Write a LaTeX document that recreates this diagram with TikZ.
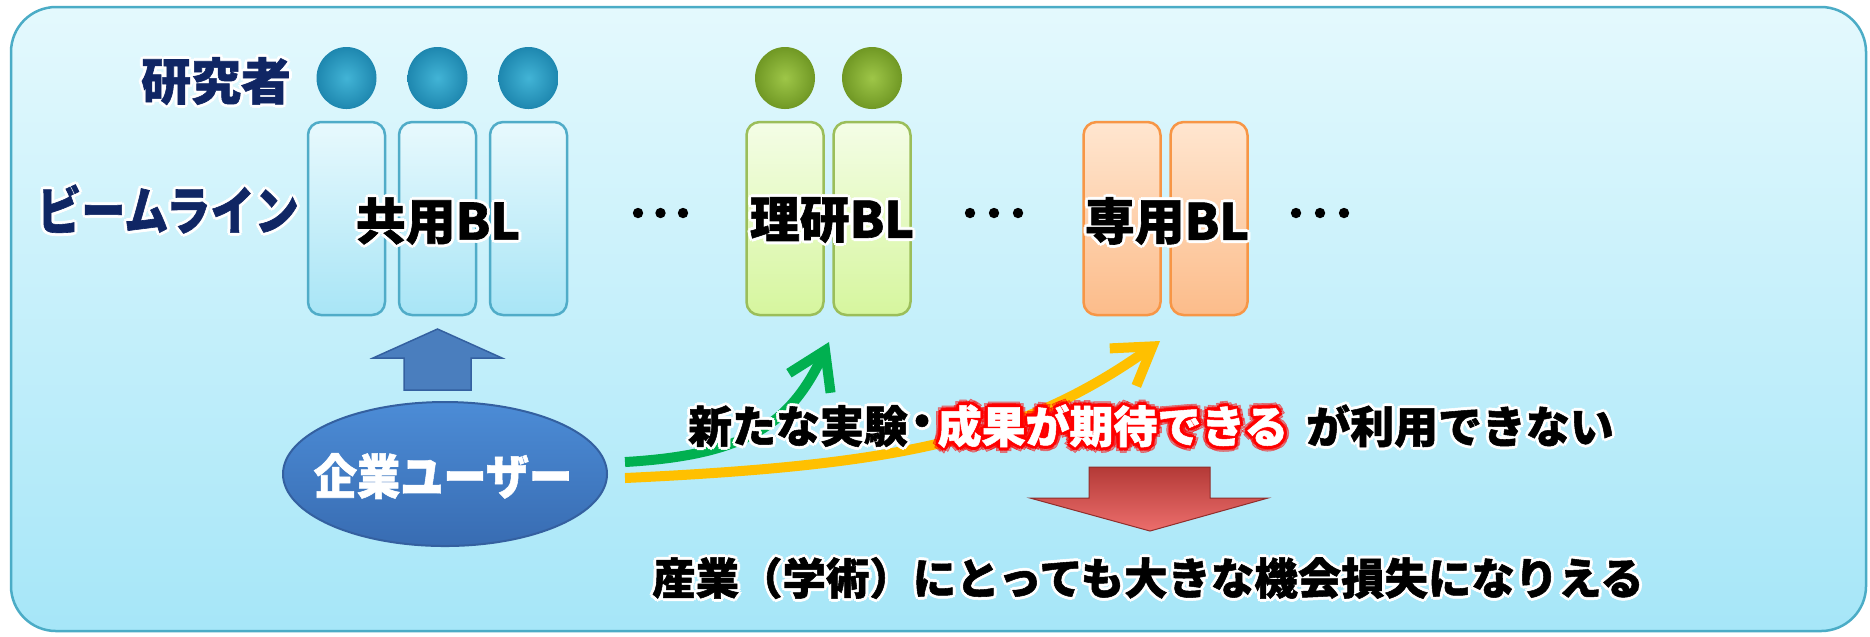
\documentclass[tikz,border=0pt]{standalone}
\usepackage{fontspec}
\newfontfamily\jp{Noto Sans CJK JP}[BoldFeatures={FakeBold=1.2}]
\usetikzlibrary{shapes.geometric,arrows.meta}
\definecolor{navy}{RGB}{16,38,100}
\definecolor{bgtop}{RGB}{228,249,253}
\definecolor{bgbot}{RGB}{166,230,248}
\definecolor{bgline}{RGB}{75,172,198}
\definecolor{bbtop}{RGB}{232,249,253}
\definecolor{bbbot}{RGB}{168,229,246}
\definecolor{bbline}{RGB}{80,172,200}
\definecolor{gbtop}{RGB}{244,253,230}
\definecolor{gbbot}{RGB}{214,246,158}
\definecolor{gbline}{RGB}{155,190,90}
\definecolor{obtop}{RGB}{255,230,208}
\definecolor{obbot}{RGB}{252,188,138}
\definecolor{obline}{RGB}{247,150,70}
\definecolor{bcin}{RGB}{66,180,214}
\definecolor{bcout}{RGB}{30,135,175}
\definecolor{gcin}{RGB}{158,198,72}
\definecolor{gcout}{RGB}{112,152,36}
\definecolor{ustop}{RGB}{76,140,214}
\definecolor{usbot}{RGB}{56,108,178}
\definecolor{usline}{RGB}{52,96,160}
\definecolor{offgreen}{RGB}{0,176,80}
\definecolor{offgold}{RGB}{255,192,0}
\definecolor{barrow}{RGB}{74,126,190}
\definecolor{rtop}{RGB}{180,58,55}
\definecolor{rbot}{RGB}{236,110,108}
\tikzset{
  lbl/.style={inner sep=0pt, font=\jp\bfseries\fontsize{#1}{#1}\selectfont},
  bluebox/.style={draw=bbline, line width=0.25mm, rounded corners=1.3mm, top color=bbtop, bottom color=bbbot, minimum width=7.7mm, minimum height=19.3mm, inner sep=0pt},
  greenbox/.style={bluebox, draw=gbline, top color=gbtop, bottom color=gbbot},
  orangebox/.style={bluebox, draw=obline, top color=obtop, bottom color=obbot},
  bluecirc/.style={ellipse, minimum width=6mm, minimum height=6.2mm, inner sep=0pt, inner color=bcin, outer color=bcout},
  greencirc/.style={bluecirc, inner color=gcin, outer color=gcout},
  curvearrow/.style={line width=1mm, -{Straight Barb[length=3.6mm,width=4.6mm]}},
  dotmark/.style={fill=black},
}
% glow: copies of the text around the real one
\newcommand\glowtxt[6]{%
  \foreach \gA in {0,45,...,315}{%
    \node[#3, text=#4, shift={(\gA:#5)}] at #2 {#6};}
  \node[#3] (#1) at #2 {#6};}
\newcommand\redglowtxt[5]{%
  \foreach \gA in {0,45,...,315}{%
    \node[#3, text=#4, text opacity=0.45, shift={(\gA:5.5)}] at #2 {#5};
    \node[#3, text=#4, shift={(\gA+22.5:3)}] at #2 {#5};}
  \node[#3] (#1) at #2 {#5};}
\begin{document}
\begin{tikzpicture}[x=0.1mm,y=-0.1mm]
\useasboundingbox (0,0) rectangle (1870,636);
\fill[white] (0,0) rectangle (1870,636);
\path[draw=bgline, line width=0.25mm, rounded corners=4.5mm, top color=bgtop, bottom color=bgbot] (11,7) rectangle (1866,631);

% researchers
\foreach \x/\n in {346.5/1,437.5/2,528.5/3} \node[bluecirc] (rb\n) at (\x,78) {};
\foreach \x/\n in {785/1,872/2} \node[greencirc] (rg\n) at (\x,78) {};

% beamlines
\foreach \x/\n in {346.5/1,437.5/2,528.5/3} \node[bluebox] (kb\n) at (\x,218.5) {};
\foreach \x/\n in {785/1,872/2} \node[greenbox] (rk\n) at (\x,218.5) {};
\foreach \x/\n in {1122/1,1209/2} \node[orangebox] (sb\n) at (\x,218.5) {};

% dots
\foreach \x in {638,660.5,683,970,994,1018,1296,1320,1344} \fill[dotmark] (\x,213) circle (0.52mm);

% left labels
\glowtxt{lres}{(216,81)}{lbl=14.2pt, text=navy}{white}{3}{研究者}
\glowtxt{lbl1}{(168,209)}{lbl=14.8pt, text=navy}{white}{3}{\scalebox{0.85}[1]{ビームライン}}

% BL labels
\glowtxt{tk}{(438,221)}{lbl=14.2pt, text=black}{white}{3}{共用BL}
\glowtxt{tr}{(832,220)}{lbl=14.2pt, text=black}{white}{3}{理研BL}
\glowtxt{ts}{(1167,221)}{lbl=14.2pt, text=black}{white}{3}{専用BL}

% blue up arrow
\draw[fill=barrow, draw=usline, line width=0.15mm, line join=miter] (404,390) -- (404,358) -- (373,358) -- (437.5,329) -- (502,358) -- (471,358) -- (471,390) -- cycle;

% user ellipse
\node[ellipse, minimum width=32.4mm, minimum height=14.4mm, inner sep=0pt, top color=ustop, bottom color=usbot, draw=usline, line width=0.2mm] (user) at (445,474) {};
\node[lbl=13.66pt, text=white] (usertxt) at (443,476) {\scalebox{0.9}[1]{企業ユーザー}};

% curved arrows
\coordinate (gS) at (625,462);
\coordinate (gE) at (829,342);
\coordinate (oS) at (625,478);
\coordinate (oE) at (1160,341);
\draw[curvearrow, offgreen] (gS) .. controls (745,455) and (790,425) .. (gE);
\draw[curvearrow, offgold] (oS) .. controls (900,465) and (1020,440) .. (oE);

% middle sentence
\glowtxt{m1}{(798,426)}{lbl=12.5pt, text=black}{white}{3}{新たな実験}
\glowtxt{m1d}{(922,426)}{lbl=12.5pt, text=black}{white}{3}{・}
\redglowtxt{m2}{(1113,426)}{lbl=12.5pt, text=white}{red}{成果が期待できる}
\glowtxt{m3}{(1460,426)}{lbl=12.5pt, text=black}{white}{3}{が利用できない}

% red down arrow
\path[top color=rtop, bottom color=rbot, draw=rtop!80!black, line width=0.1mm] (1089,467) -- (1210,467) -- (1210,498) -- (1268,498) -- (1150,531) -- (1030,498) -- (1089,498) -- cycle;

% bottom sentence
\glowtxt{bot}{(1148,578)}{lbl=12.35pt, text=black}{white}{3}{産業（学術）にとっても大きな機会損失になりえる}
\end{tikzpicture}
\end{document}
